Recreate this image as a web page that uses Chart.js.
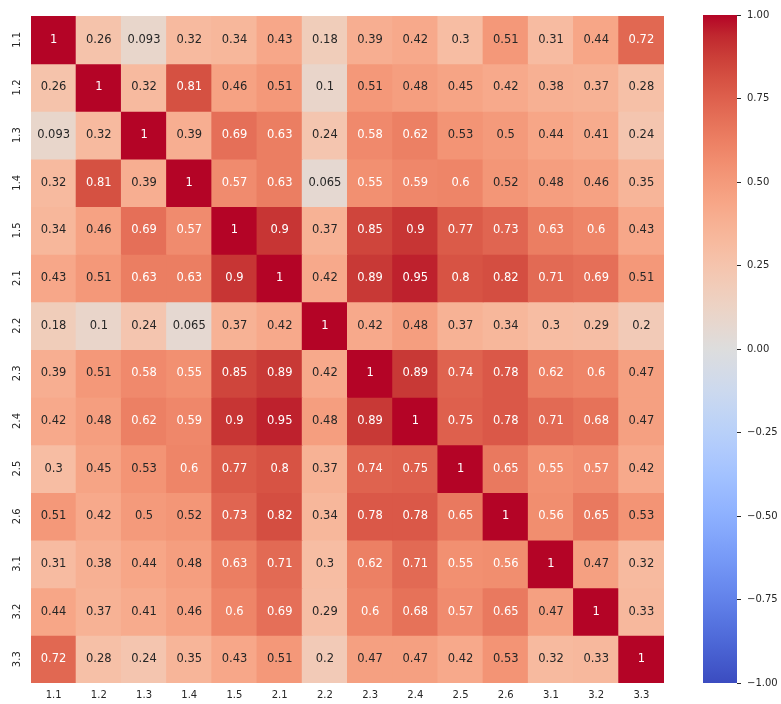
<!DOCTYPE html>
<html>
<head>
<meta charset="utf-8">
<script src="https://cdn.jsdelivr.net/npm/chart.js@4/dist/chart.umd.min.js"></script>
<style>
  html, body { margin: 0; padding: 0; background: #ffffff; }
  #wrap { position: relative; width: 781px; height: 704px; overflow: hidden; }
  #heat { position: absolute; left: 0; top: 0; }
  #cbar { position: absolute; left: 680px; top: 0; }
</style>
</head>
<body>
<div id="wrap">
  <canvas id="heat" width="680" height="704"></canvas>
  <canvas id="cbar" width="101" height="704"></canvas>
</div>
<script>
// ---- DATA ----
const colLabels = ["1.1","1.2","1.3","1.4","1.5","2.1","2.2","2.3","2.4","2.5","2.6","3.1","3.2","3.3"];
const rowLabels = ["1.1","1.2","1.3","1.4","1.5","2.1","2.2","2.3","2.4","2.5","2.6","3.1","3.2","3.3"];

const row_1_1 = [1, 0.26, 0.093, 0.32, 0.34, 0.43, 0.18, 0.39, 0.42, 0.3, 0.51, 0.31, 0.44, 0.72];
const row_1_2 = [0.26, 1, 0.32, 0.81, 0.46, 0.51, 0.1, 0.51, 0.48, 0.45, 0.42, 0.38, 0.37, 0.28];
const row_1_3 = [0.093, 0.32, 1, 0.39, 0.69, 0.63, 0.24, 0.58, 0.62, 0.53, 0.5, 0.44, 0.41, 0.24];
const row_1_4 = [0.32, 0.81, 0.39, 1, 0.57, 0.63, 0.065, 0.55, 0.59, 0.6, 0.52, 0.48, 0.46, 0.35];
const row_1_5 = [0.34, 0.46, 0.69, 0.57, 1, 0.9, 0.37, 0.85, 0.9, 0.77, 0.73, 0.63, 0.6, 0.43];
const row_2_1 = [0.43, 0.51, 0.63, 0.63, 0.9, 1, 0.42, 0.89, 0.95, 0.8, 0.82, 0.71, 0.69, 0.51];
const row_2_2 = [0.18, 0.1, 0.24, 0.065, 0.37, 0.42, 1, 0.42, 0.48, 0.37, 0.34, 0.3, 0.29, 0.2];
const row_2_3 = [0.39, 0.51, 0.58, 0.55, 0.85, 0.89, 0.42, 1, 0.89, 0.74, 0.78, 0.62, 0.6, 0.47];
const row_2_4 = [0.42, 0.48, 0.62, 0.59, 0.9, 0.95, 0.48, 0.89, 1, 0.75, 0.78, 0.71, 0.68, 0.47];
const row_2_5 = [0.3, 0.45, 0.53, 0.6, 0.77, 0.8, 0.37, 0.74, 0.75, 1, 0.65, 0.55, 0.57, 0.42];
const row_2_6 = [0.51, 0.42, 0.5, 0.52, 0.73, 0.82, 0.34, 0.78, 0.78, 0.65, 1, 0.56, 0.65, 0.53];
const row_3_1 = [0.31, 0.38, 0.44, 0.48, 0.63, 0.71, 0.3, 0.62, 0.71, 0.55, 0.56, 1, 0.47, 0.32];
const row_3_2 = [0.44, 0.37, 0.41, 0.46, 0.6, 0.69, 0.29, 0.6, 0.68, 0.57, 0.65, 0.47, 1, 0.33];
const row_3_3 = [0.72, 0.28, 0.24, 0.35, 0.43, 0.51, 0.2, 0.47, 0.47, 0.42, 0.53, 0.32, 0.33, 1];

const colorbarTicks = [1, 0.75, 0.5, 0.25, 0, -0.25, -0.5, -0.75, -1];
const vmin = -1, vmax = 1;

const rows = [row_1_1, row_1_2, row_1_3, row_1_4, row_1_5, row_2_1, row_2_2, row_2_3,
              row_2_4, row_2_5, row_2_6, row_3_1, row_3_2, row_3_3];

// ---- coolwarm colormap (Moreland) ----
const CW = [
  [59,76,192],[68,90,204],[77,104,215],[87,117,225],[98,130,234],[108,142,241],
  [119,154,247],[130,165,251],[141,176,254],[152,185,255],[163,194,255],[174,201,253],
  [184,208,249],[194,213,244],[204,217,238],[213,219,230],[221,221,221],[229,216,209],
  [236,211,197],[241,204,185],[245,196,173],[247,187,160],[247,177,148],[247,166,135],
  [244,154,123],[241,141,111],[236,127,99],[229,112,88],[222,96,77],[213,80,66],
  [203,62,56],[192,40,47],[180,4,38]
];
function cwRGB(t) {
  t = Math.max(0, Math.min(1, t));
  const p = t * (CW.length - 1);
  const i = Math.min(CW.length - 2, Math.floor(p));
  const f = p - i;
  const a = CW[i], b = CW[i + 1];
  return [a[0] + (b[0] - a[0]) * f, a[1] + (b[1] - a[1]) * f, a[2] + (b[2] - a[2]) * f];
}
function rgbStr(c) { return `rgb(${Math.round(c[0])},${Math.round(c[1])},${Math.round(c[2])})`; }
function valColor(v) { return rgbStr(cwRGB((v - vmin) / (vmax - vmin))); }
function lum(c) {
  const lin = c.map(x => { x /= 255; return x <= 0.03928 ? x / 12.92 : Math.pow((x + 0.055) / 1.055, 2.4); });
  return 0.2126 * lin[0] + 0.7152 * lin[1] + 0.0722 * lin[2];
}
function textColor(v) { return lum(cwRGB((v - vmin) / (vmax - vmin))) > 0.408 ? '#262626' : '#ffffff'; }
function fmt2g(v) { return String(Number(v.toPrecision(2))); }

const FONT = "'DejaVu Sans', 'Liberation Sans', sans-serif";

// ---- Heatmap ----
const heatDatasets = rows.map((vals, i) => ({
  label: rowLabels[i],
  data: vals.map(() => [i, i + 1]),
  values: vals,
  backgroundColor: vals.map(valColor),
  borderWidth: 0,
  inflateAmount: 0.5,
  barPercentage: 1.0,
  categoryPercentage: 1.0,
  grouped: false
}));

const annotatePlugin = {
  id: 'annot',
  afterDatasetsDraw(chart) {
    const ctx = chart.ctx;
    ctx.save();
    ctx.font = `11.5px ${FONT}`;
    ctx.textAlign = 'center';
    ctx.textBaseline = 'middle';
    chart.data.datasets.forEach((ds, i) => {
      const meta = chart.getDatasetMeta(i);
      meta.data.forEach((el, j) => {
        const v = ds.values[j];
        ctx.fillStyle = textColor(v);
        ctx.fillText(fmt2g(v), el.x, (el.y + el.base) / 2);
      });
    });
    ctx.restore();
  }
};

const yLabelPlugin = {
  id: 'ylabels',
  afterDraw(chart) {
    const ctx = chart.ctx;
    const ys = chart.scales.y;
    ctx.save();
    ctx.font = `10px ${FONT}`;
    ctx.fillStyle = '#262626';
    ctx.textAlign = 'center';
    ctx.textBaseline = 'middle';
    rowLabels.forEach((lab, i) => {
      const y = ys.getPixelForValue(i + 0.5);
      ctx.save();
      ctx.translate(ys.right - 13.5, y);
      ctx.rotate(-Math.PI / 2);
      ctx.fillText(lab, 0, 0);
      ctx.restore();
    });
    ctx.restore();
  }
};

new Chart(document.getElementById('heat'), {
  type: 'bar',
  data: { labels: colLabels, datasets: heatDatasets },
  options: {
    responsive: false,
    animation: false,
    devicePixelRatio: 1,
    layout: { padding: { top: 16, right: 16, left: 0, bottom: 0 } },
    plugins: { legend: { display: false }, tooltip: { enabled: false } },
    scales: {
      x: {
        type: 'category',
        grid: { display: false, drawTicks: false },
        border: { display: false },
        ticks: { color: '#262626', font: { family: FONT, size: 10 }, padding: 6, maxRotation: 0, minRotation: 0 },
        afterFit(s) { s.height = 21; }
      },
      y: {
        type: 'linear',
        min: 0, max: rows.length,
        reverse: true,
        grid: { display: false, drawTicks: false },
        border: { display: false },
        ticks: { display: false },
        afterFit(s) { s.width = 31; }
      }
    }
  },
  plugins: [annotatePlugin, yLabelPlugin]
});

// ---- Colorbar ----
new Chart(document.getElementById('cbar'), {
  type: 'bar',
  data: {
    labels: [''],
    datasets: [{
      data: [[vmin, vmax]],
      borderWidth: 0,
      barPercentage: 1.0,
      categoryPercentage: 1.0,
      backgroundColor(context) {
        const ca = context.chart.chartArea;
        if (!ca) return '#dddddd';
        const g = context.chart.ctx.createLinearGradient(0, ca.bottom, 0, ca.top);
        CW.forEach((c, k) => g.addColorStop(k / (CW.length - 1), rgbStr(c)));
        return g;
      }
    }]
  },
  options: {
    responsive: false,
    animation: false,
    devicePixelRatio: 1,
    layout: { padding: { top: 15, bottom: 21, left: 23, right: 0 } },
    plugins: { legend: { display: false }, tooltip: { enabled: false } },
    scales: {
      x: { display: false },
      y: {
        type: 'linear',
        position: 'right',
        min: vmin, max: vmax,
        afterBuildTicks(s) { s.ticks = colorbarTicks.map(v => ({ value: v })); },
        grid: { display: true, drawOnChartArea: false, drawTicks: true, tickLength: 4, color: '#262626', lineWidth: 1 },
        border: { display: false },
        ticks: {
          color: '#262626',
          font: { family: FONT, size: 10 },
          padding: 6,
          callback(v) { return (v < 0 ? '\u2212' : '') + Math.abs(v).toFixed(2); }
        },
        afterFit(s) { s.width = 44; }
      }
    }
  }
});
</script>
</body>
</html>
